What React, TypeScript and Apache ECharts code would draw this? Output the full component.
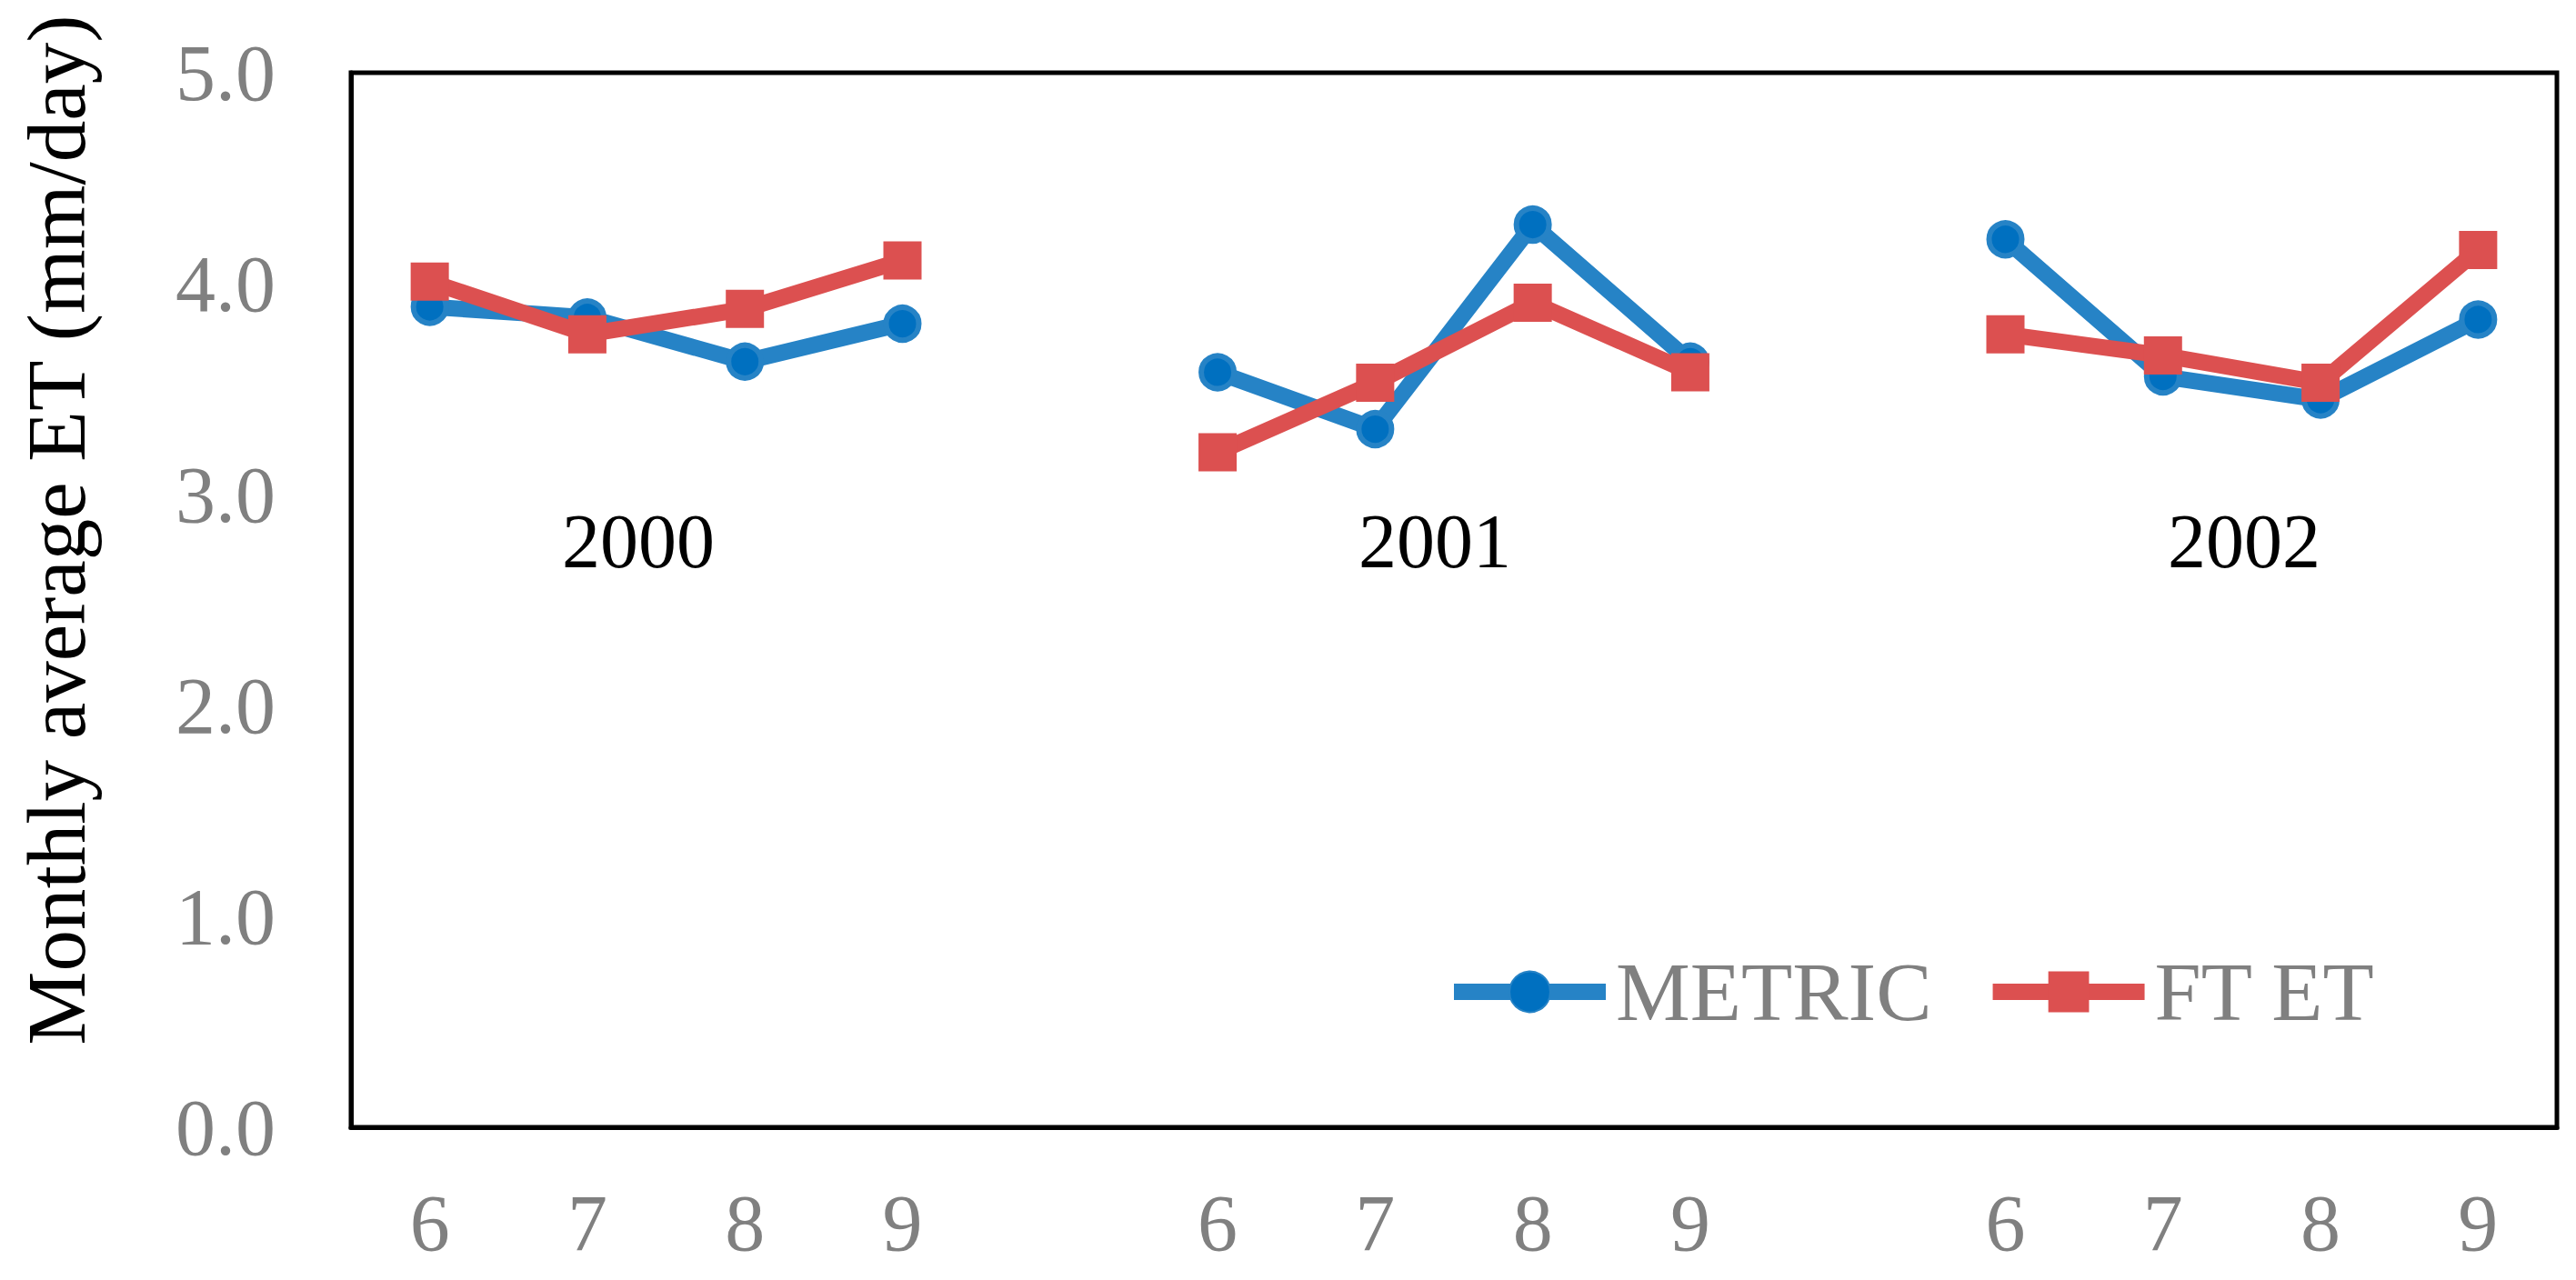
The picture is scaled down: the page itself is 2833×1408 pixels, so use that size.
import React, { useEffect, useRef } from "react";
import * as echarts from "echarts";

const months = ["6", "7", "8", "9", "", "6", "7", "8", "9", "", "6", "7", "8", "9"];
const metric = [3.89, 3.84, 3.63, 3.81, null, 3.58, 3.31, 4.28, 3.63, null, 4.21, 3.56, 3.45, 3.83];
const ftEt = [4.01, 3.76, 3.88, 4.11, null, 3.2, 3.53, 3.91, 3.58, null, 3.76, 3.66, 3.53, 4.16];
const yearLabels = ["2000", "2001", "2002"];
const yTitle = "Monthly average ET (mm/day)";

const FONT = "'Liberation Serif', 'Times New Roman', serif";
const BLUE = "#2683C6";
const BLUE_IN = "#0070C0";
const RED = "#DC5050";

export default function App() {
  const ref = useRef<HTMLDivElement>(null);
  useEffect(() => {
    if (!ref.current) return;
    const chart = echarts.init(ref.current, undefined, { renderer: "svg" });
    const yearX = [702, 1578, 2468];
    chart.setOption({
      animation: false,
      backgroundColor: "#ffffff",
      grid: {
        left: 386,
        top: 80,
        right: 21,
        bottom: 168,
        show: true,
        borderColor: "#000000",
        borderWidth: 5,
        containLabel: false,
      },
      legend: {
        left: 1585,
        top: 1040,
        itemWidth: 167,
        itemHeight: 56,
        itemGap: 58,
        lineStyle: { width: 18 },
        textStyle: { fontFamily: FONT, fontSize: 92, color: "#808080", padding: [0, 0, 0, 6] },
        data: ["METRIC", "FT ET"],
      },
      xAxis: {
        type: "category",
        data: months,
        boundaryGap: true,
        axisTick: { show: false },
        axisLine: { show: true, lineStyle: { color: "#000", width: 5 } },
        axisLabel: { fontFamily: FONT, fontSize: 88, color: "#808080", margin: 61, interval: 0 },
        splitLine: { show: false },
      },
      yAxis: {
        type: "value",
        min: 0,
        max: 5,
        interval: 1,
        axisTick: { show: false },
        axisLine: { show: true, lineStyle: { color: "#000", width: 5 } },
        splitLine: { show: false },
        axisLabel: {
          fontFamily: FONT,
          fontSize: 88,
          color: "#808080",
          margin: 83,
          formatter: (v: number) => v.toFixed(1),
        },
      },
      graphic: [
        {
          type: "text",
          x: 62,
          y: 583,
          rotation: Math.PI / 2,
          style: {
            text: yTitle,
            fontFamily: FONT,
            fontSize: 91,
            fill: "#000",
            align: "center",
            verticalAlign: "middle",
          },
        },
        ...yearLabels.map((t, i) => ({
          type: "text",
          x: yearX[i],
          y: 595,
          style: {
            text: t,
            fontFamily: FONT,
            fontSize: 84,
            fill: "#000",
            align: "center",
            verticalAlign: "middle",
          },
        })),
      ],
      series: [
        {
          name: "METRIC",
          type: "line",
          data: metric,
          connectNulls: false,
          symbol: "circle",
          symbolSize: 36,
          lineStyle: { color: BLUE, width: 18 },
          itemStyle: { color: BLUE_IN, borderColor: BLUE, borderWidth: 6 },
          z: 2,
        },
        {
          name: "FT ET",
          type: "line",
          data: ftEt,
          connectNulls: false,
          symbol: "rect",
          symbolSize: 42,
          lineStyle: { color: RED, width: 18 },
          itemStyle: { color: RED },
          z: 3,
        },
      ],
    });
    return () => chart.dispose();
  }, []);
  return (
    <div
      ref={ref}
      style={{ position: "fixed", left: 0, top: 0, width: 2833, height: 1408, background: "#fff" }}
    />
  );
}
